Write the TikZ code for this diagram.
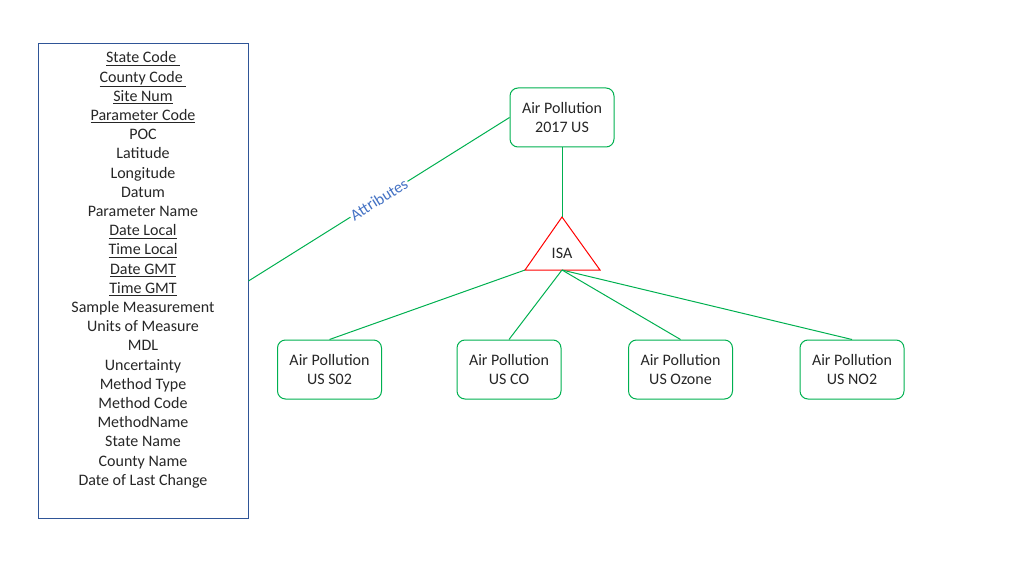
\documentclass[tikz,border=0pt]{standalone}
\usepackage{fontspec}
\setmainfont{Carlito}
\definecolor{linegreen}{HTML}{00B050}
\definecolor{boxblue}{HTML}{2F5597}
\definecolor{labelblue}{HTML}{4472C4}
\definecolor{textgray}{HTML}{262626}
\begin{document}
\begin{tikzpicture}[x=0.75pt, y=-0.75pt,
  every node/.style = {font=\fontsize{12}{14.4}\selectfont, text=textgray, align=center},
  entity/.style = {draw=linegreen, line width=0.75pt, rounded corners=6pt, minimum width=78pt, minimum height=44.25pt, inner sep=0pt},
  link/.style = {draw=linegreen, line width=0.75pt}]
  \useasboundingbox (0,0) rectangle (1027,574);
  % attribute list
  \node [draw=boxblue, line width=0.75pt, minimum width=157.5pt, minimum height=355.5pt, inner sep=0pt] (attrs) at (143,281) {};
  \node (attrlist) at (143,270) {\underline{State Code\ }\\ \underline{County Code\ }\\ \underline{Site Num}\\ \underline{Parameter Code}\\ POC\\ Latitude\\ Longitude\\ Datum\\ Parameter Name\\ \underline{Date Local}\\ \underline{Time Local}\\ \underline{Date GMT}\\ \underline{Time GMT}\\ Sample Measurement\\ Units of Measure\\ MDL\\ Uncertainty\\ Method Type\\ Method Code\\ MethodName\\ State Name\\ County Name\\ Date of Last Change};
  % entities
  \node [entity] (top) at (562,117.5) {Air Pollution\\2017 US};
  \node [entity] (so2) at (329.5,369.5) {Air Pollution\\US S02};
  \node [entity] (co) at (509,369.5) {Air Pollution\\US CO};
  \node [entity] (ozone) at (680.5,369.5) {Air Pollution\\US Ozone};
  \node [entity] (no2) at (852,369.5) {Air Pollution\\US NO2};
  % isa triangle
  \coordinate (apex) at (562,217);
  \coordinate (baseleft) at (525,270);
  \coordinate (baseright) at (600,270);
  \coordinate (basemid) at (562,270);
  \draw [red, line width=0.75pt] (apex) -- (baseleft) -- (baseright) -- cycle;
  \node (isa) at (562,253) {ISA};
  % links
  \draw [link] (attrs.east) -- node [sloped, fill=white, inner sep=1pt, text=labelblue] {Attributes} (top.west);
  \draw [link] (top.south) -- (apex);
  \draw [link] (baseleft) -- (so2.north);
  \draw [link] (basemid) -- (co.north);
  \draw [link] (basemid) -- (ozone.north);
  \draw [link] (basemid) -- (no2.north);
\end{tikzpicture}
\end{document}
